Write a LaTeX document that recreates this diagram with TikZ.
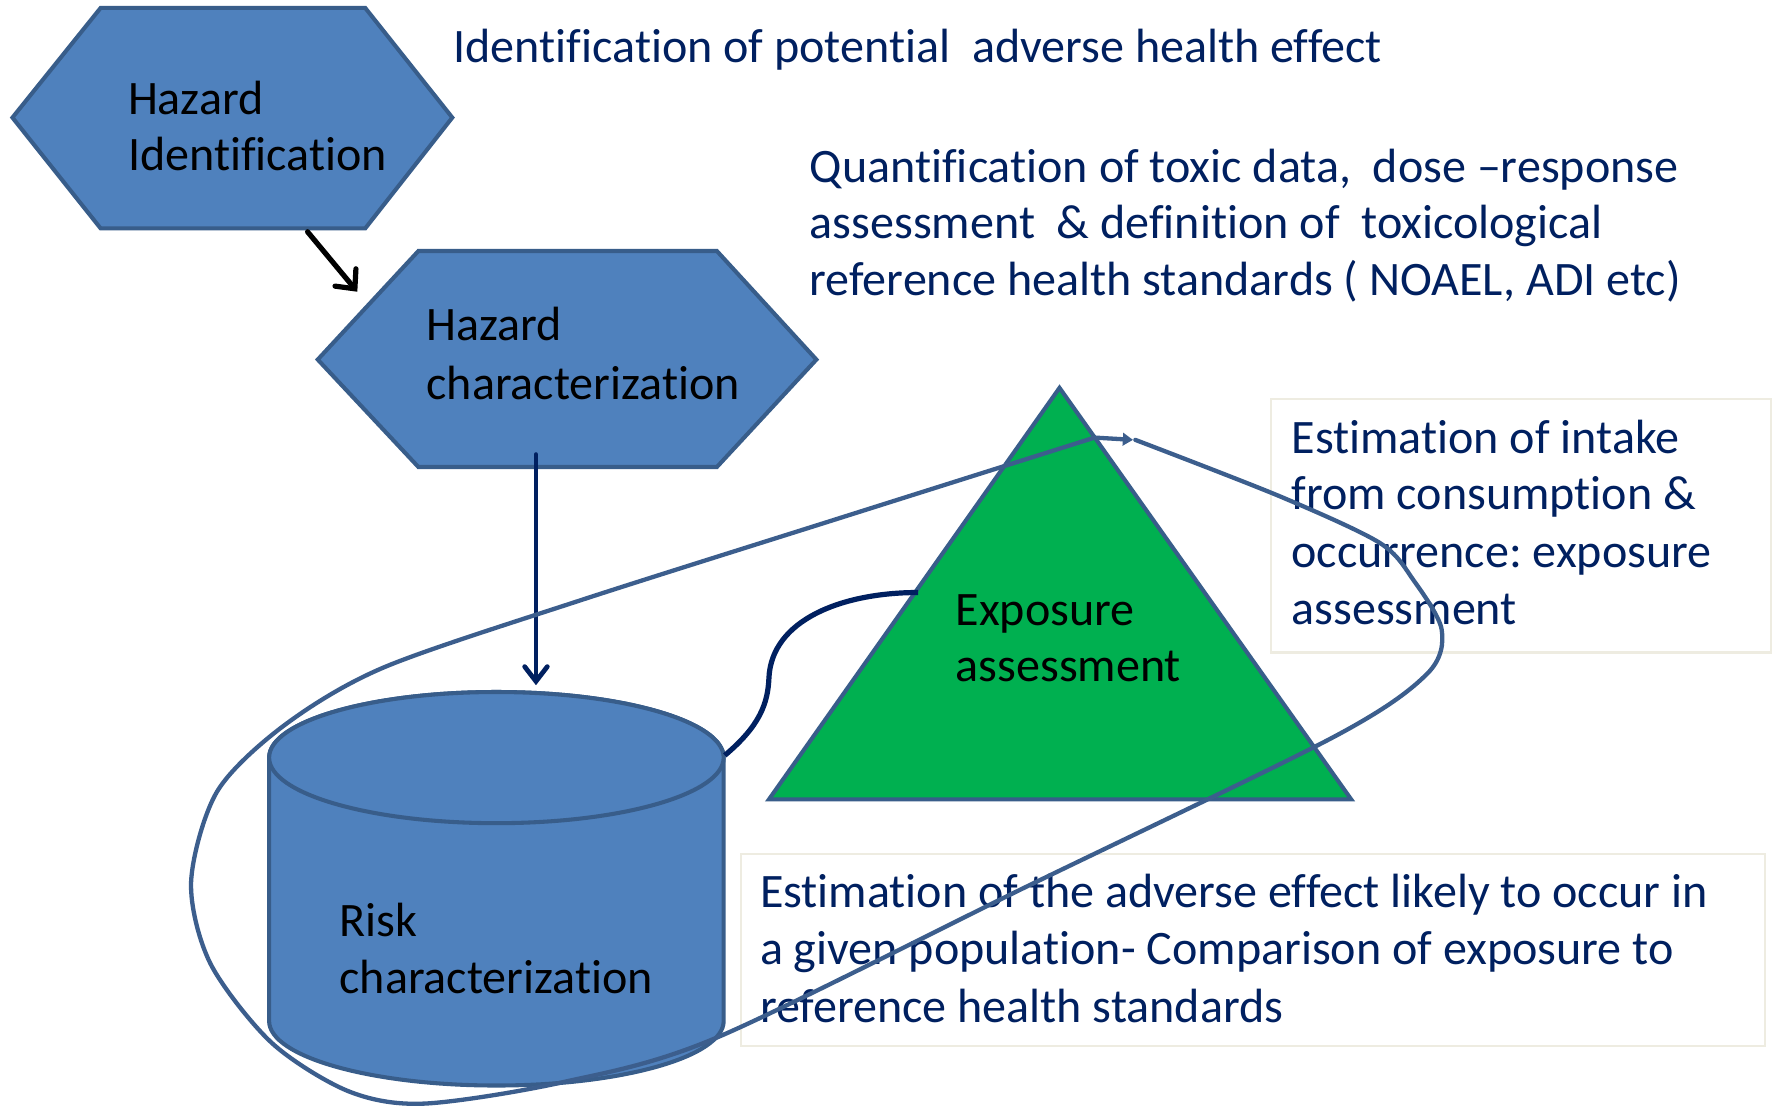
\documentclass[tikz,border=0pt]{standalone}
\usepackage{fontspec}
\setmainfont{Carlito}[Ligatures=NoCommon]
\frenchspacing
\usetikzlibrary{arrows.meta}
\definecolor{shapeblue}{HTML}{4F81BD}
\definecolor{shapeedge}{HTML}{385D8A}
\definecolor{expgreen}{HTML}{00B050}
\definecolor{navy}{HTML}{002060}
\definecolor{loopblue}{HTML}{3C5E8D}
\definecolor{boxedge}{HTML}{EEECE1}
\begin{document}
\begin{tikzpicture}[x=1pt,y=-1pt,
  shapestyle/.style={fill=shapeblue,draw=shapeedge,line width=3.6pt,line join=miter},
  lbl/.style={anchor=base west,inner sep=0pt,font=\fontsize{42.5}{50}\selectfont},
  blacklbl/.style={lbl,text=black},
  bluelbl/.style={lbl,text=navy},
  textbox/.style={draw=boxedge,line width=2pt},
  loopline/.style={draw=loopblue,line width=3.8pt,line cap=round,line join=round},
  blackarrow/.style={draw=black,line width=4.6pt,line cap=round,line join=round,-{Straight Barb[length=13pt,width=24pt,line cap=round]}},
  navyarrow/.style={draw=navy,line width=4.2pt,line cap=round,line join=round,-{Straight Barb[length=13pt,width=20pt,line cap=round]}},
  navylink/.style={draw=navy,line width=4.6pt}
]
\useasboundingbox[fill=white] (0,0) rectangle (1568,981);

% text boxes
\draw[textbox] (1124,353) rectangle (1566,577);
\draw[textbox] (655,755) rectangle (1561,925);

% Hazard identification hexagon
\path[shapestyle] (11,104) -- (89,7) -- (323,7) -- (400,104) -- (323,202) -- (89,202) -- cycle;
\node[blacklbl] (hi1) at (113,101) {Hazard};
\node[blacklbl] (hi2) at (113,151) {Identification};

% Hazard characterization hexagon
\path[shapestyle] (281,318) -- (370,222) -- (634,222) -- (722,318) -- (634,413) -- (370,413) -- cycle;
\node[blacklbl] (hc1) at (377,301) {Hazard};
\node[blacklbl] (hc2) at (377,353) {characterization};

% Exposure triangle
\path[fill=expgreen,draw=shapeedge,line width=3.6pt,line join=miter] (937,343) -- (1195,707) -- (680,707) -- cycle;
\node[blacklbl] (ea1) at (845,553) {Exposure};
\node[blacklbl] (ea2) at (845,603) {assessment};

% Risk characterization cylinder
\path[shapestyle] (238,670) -- (238,903) arc[start angle=180,end angle=0,x radius=201,y radius=57]
  -- (640,670) arc[start angle=0,end angle=-180,x radius=201,y radius=58] -- cycle;
\draw[shapestyle] (439,670) ellipse[x radius=201,y radius=58];
\node[blacklbl] (rc1) at (300,828) {Risk};
\node[blacklbl] (rc2) at (300,879) {characterization};

% descriptive texts
\node[bluelbl] (d1) at (401,55) {Identification of potential~ adverse health effect};
\node[bluelbl] (q1) at (716,161) {Quantification of toxic data,~ dose –response};
\node[bluelbl] (q2) at (716,211) {assessment~ \& definition of~ toxicological};
\node[bluelbl] (q3) at (716,261) {reference health standards ( NOAEL, ADI etc)};
\node[bluelbl] (e1) at (1142,401) {Estimation of intake};
\node[bluelbl] (e2) at (1142,451) {from consumption \&};
\node[bluelbl] (e3) at (1142,502) {occurrence: exposure};
\node[bluelbl] (e4) at (1142,552) {assessment};
\node[bluelbl] (r1) at (672,803) {Estimation of the adverse effect likely to occur in};
\node[bluelbl] (r2) at (672,853) {a given population- Comparison of exposure to};
\node[bluelbl] (r3) at (672,904) {reference health standards};

% connector anchors
\coordinate (hiout) at (272,205);
\coordinate (hcin) at (316,258);
\coordinate (hcout) at (474,402);
\coordinate (rcin) at (474,606);
\coordinate (rcside) at (641,668);
\coordinate (easide) at (812,524);
\coordinate (loopstart) at (968,387);
\coordinate (looptip) at (1002,389);

\draw[blackarrow] (hiout) -- (hcin);
\draw[navyarrow] (hcout) -- (rcin);
\draw[navylink] (rcside) .. controls (672,642) and (679,622) .. (680,600)
  .. controls (682,548) and (745,524) .. (easide);

% big loop
\draw[loopline] plot[smooth,tension=0.5] coordinates {
 (968,387) (740,459) (513,531) (340,590) (252,641) (192,700) (169,780)
 (186,852) (240,922) (308,965) (375,976) (498,957) (633,918) (906,785)
 (1179,652) (1262,596) (1275,557) (1250,513) (1220,480) (1132,439) (1004,389)};
\draw[loopline,-{Triangle[length=9pt,width=11pt]}] (loopstart) -- (looptip);
\end{tikzpicture}
\end{document}
